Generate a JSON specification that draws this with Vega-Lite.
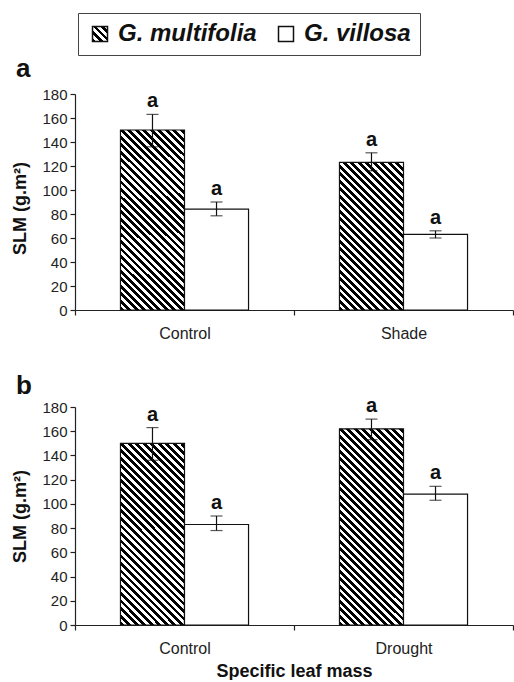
{
  "$schema": "https://vega.github.io/schema/vega-lite/v6.json",
  "padding": {"left": 11, "top": 12, "right": 0, "bottom": 0},
  "params": [
    {"name": "hatch", "value": [
      {"offset":0,"color":"black"},
      {"offset":0.0139,"color":"black"},{"offset":0.0139,"color":"white"},
      {"offset":0.0278,"color":"white"},{"offset":0.0278,"color":"black"},
      {"offset":0.0417,"color":"black"},{"offset":0.0417,"color":"white"},
      {"offset":0.0556,"color":"white"},{"offset":0.0556,"color":"black"},
      {"offset":0.0694,"color":"black"},{"offset":0.0694,"color":"white"},
      {"offset":0.0833,"color":"white"},{"offset":0.0833,"color":"black"},
      {"offset":0.0972,"color":"black"},{"offset":0.0972,"color":"white"},
      {"offset":0.1111,"color":"white"},{"offset":0.1111,"color":"black"},
      {"offset":0.125,"color":"black"},{"offset":0.125,"color":"white"},
      {"offset":0.1389,"color":"white"},{"offset":0.1389,"color":"black"},
      {"offset":0.1528,"color":"black"},{"offset":0.1528,"color":"white"},
      {"offset":0.1667,"color":"white"},{"offset":0.1667,"color":"black"},
      {"offset":0.1806,"color":"black"},{"offset":0.1806,"color":"white"},
      {"offset":0.1944,"color":"white"},{"offset":0.1944,"color":"black"},
      {"offset":0.2083,"color":"black"},{"offset":0.2083,"color":"white"},
      {"offset":0.2222,"color":"white"},{"offset":0.2222,"color":"black"},
      {"offset":0.2361,"color":"black"},{"offset":0.2361,"color":"white"},
      {"offset":0.25,"color":"white"},{"offset":0.25,"color":"black"},
      {"offset":0.2639,"color":"black"},{"offset":0.2639,"color":"white"},
      {"offset":0.2778,"color":"white"},{"offset":0.2778,"color":"black"},
      {"offset":0.2917,"color":"black"},{"offset":0.2917,"color":"white"},
      {"offset":0.3056,"color":"white"},{"offset":0.3056,"color":"black"},
      {"offset":0.3194,"color":"black"},{"offset":0.3194,"color":"white"},
      {"offset":0.3333,"color":"white"},{"offset":0.3333,"color":"black"},
      {"offset":0.3472,"color":"black"},{"offset":0.3472,"color":"white"},
      {"offset":0.3611,"color":"white"},{"offset":0.3611,"color":"black"},
      {"offset":0.375,"color":"black"},{"offset":0.375,"color":"white"},
      {"offset":0.3889,"color":"white"},{"offset":0.3889,"color":"black"},
      {"offset":0.4028,"color":"black"},{"offset":0.4028,"color":"white"},
      {"offset":0.4167,"color":"white"},{"offset":0.4167,"color":"black"},
      {"offset":0.4306,"color":"black"},{"offset":0.4306,"color":"white"},
      {"offset":0.4444,"color":"white"},{"offset":0.4444,"color":"black"},
      {"offset":0.4583,"color":"black"},{"offset":0.4583,"color":"white"},
      {"offset":0.4722,"color":"white"},{"offset":0.4722,"color":"black"},
      {"offset":0.4861,"color":"black"},{"offset":0.4861,"color":"white"},
      {"offset":0.5,"color":"white"},{"offset":0.5,"color":"black"},
      {"offset":0.5139,"color":"black"},{"offset":0.5139,"color":"white"},
      {"offset":0.5278,"color":"white"},{"offset":0.5278,"color":"black"},
      {"offset":0.5417,"color":"black"},{"offset":0.5417,"color":"white"},
      {"offset":0.5556,"color":"white"},{"offset":0.5556,"color":"black"},
      {"offset":0.5694,"color":"black"},{"offset":0.5694,"color":"white"},
      {"offset":0.5833,"color":"white"},{"offset":0.5833,"color":"black"},
      {"offset":0.5972,"color":"black"},{"offset":0.5972,"color":"white"},
      {"offset":0.6111,"color":"white"},{"offset":0.6111,"color":"black"},
      {"offset":0.625,"color":"black"},{"offset":0.625,"color":"white"},
      {"offset":0.6389,"color":"white"},{"offset":0.6389,"color":"black"},
      {"offset":0.6528,"color":"black"},{"offset":0.6528,"color":"white"},
      {"offset":0.6667,"color":"white"},{"offset":0.6667,"color":"black"},
      {"offset":0.6806,"color":"black"},{"offset":0.6806,"color":"white"},
      {"offset":0.6944,"color":"white"},{"offset":0.6944,"color":"black"},
      {"offset":0.7083,"color":"black"},{"offset":0.7083,"color":"white"},
      {"offset":0.7222,"color":"white"},{"offset":0.7222,"color":"black"},
      {"offset":0.7361,"color":"black"},{"offset":0.7361,"color":"white"},
      {"offset":0.75,"color":"white"},{"offset":0.75,"color":"black"},
      {"offset":0.7639,"color":"black"},{"offset":0.7639,"color":"white"},
      {"offset":0.7778,"color":"white"},{"offset":0.7778,"color":"black"},
      {"offset":0.7917,"color":"black"},{"offset":0.7917,"color":"white"},
      {"offset":0.8056,"color":"white"},{"offset":0.8056,"color":"black"},
      {"offset":0.8194,"color":"black"},{"offset":0.8194,"color":"white"},
      {"offset":0.8333,"color":"white"},{"offset":0.8333,"color":"black"},
      {"offset":0.8472,"color":"black"},{"offset":0.8472,"color":"white"},
      {"offset":0.8611,"color":"white"},{"offset":0.8611,"color":"black"},
      {"offset":0.875,"color":"black"},{"offset":0.875,"color":"white"},
      {"offset":0.8889,"color":"white"},{"offset":0.8889,"color":"black"},
      {"offset":0.9028,"color":"black"},{"offset":0.9028,"color":"white"},
      {"offset":0.9167,"color":"white"},{"offset":0.9167,"color":"black"},
      {"offset":0.9306,"color":"black"},{"offset":0.9306,"color":"white"},
      {"offset":0.9444,"color":"white"},{"offset":0.9444,"color":"black"},
      {"offset":0.9583,"color":"black"},{"offset":0.9583,"color":"white"},
      {"offset":0.9722,"color":"white"},{"offset":0.9722,"color":"black"},
      {"offset":0.9861,"color":"black"},{"offset":0.9861,"color":"white"},
      {"offset":1,"color":"white"}
    ]}
  ],
  "data": {"values": [
    {"panel": "a", "treatment": "Control", "species": "G. multifolia", "mean": 150, "lo": 136, "hi": 163, "sig": "a"},
    {"panel": "a", "treatment": "Control", "species": "G. villosa", "mean": 84, "lo": 78.5, "hi": 90, "sig": "a"},
    {"panel": "a", "treatment": "Shade", "species": "G. multifolia", "mean": 123, "lo": 116, "hi": 131, "sig": "a"},
    {"panel": "a", "treatment": "Shade", "species": "G. villosa", "mean": 63, "lo": 60, "hi": 66, "sig": "a"},
    {"panel": "b", "treatment": "Control", "species": "G. multifolia", "mean": 150, "lo": 136, "hi": 163, "sig": "a"},
    {"panel": "b", "treatment": "Control", "species": "G. villosa", "mean": 83, "lo": 78, "hi": 90, "sig": "a"},
    {"panel": "b", "treatment": "Drought", "species": "G. multifolia", "mean": 162, "lo": 153, "hi": 170, "sig": "a"},
    {"panel": "b", "treatment": "Drought", "species": "G. villosa", "mean": 108, "lo": 103, "hi": 114.5, "sig": "a"}
  ]},
  "config": {
    "view": {"stroke": null},
    "font": "Liberation Sans",
    "axis": {"grid": false, "domainColor": "#222", "tickColor": "#222", "labelColor": "#222", "titleColor": "#111", "labelFont": "Liberation Sans", "titleFont": "Liberation Sans", "tickSize": 5, "domainWidth": 1.2, "tickWidth": 1.2, "labelOverlap": false},
    "title": {"font": "Liberation Sans", "color": "#111"}
  },
  "spacing": 32,
  "resolve": {"scale": {"x": "independent", "fill": "shared"}, "legend": {"fill": "shared"}},
  "vconcat": [
    {
      "title": {"text": "a", "anchor": "start", "frame": "bounds", "fontSize": 26, "fontWeight": "bold", "baseline": "alphabetic", "offset": -16, "dx": 4},
      "width": 438,
      "height": 216,
      "transform": [{"filter": "datum.panel === 'a'"}],
      "encoding": {
        "x": {"field": "treatment", "type": "nominal", "sort": null, "scale": {"paddingInner": 0, "paddingOuter": 0},
              "axis": {"title": null, "labelAngle": 0, "labelFontSize": 16, "labelPadding": 10, "tickBand": "extent"}},
        "xOffset": {"field": "species", "type": "nominal", "sort": null, "scale": {"paddingInner": 0, "paddingOuter": 0.71}}
      },
      "layer": [
        {
          "mark": {"type": "bar", "stroke": "#111", "strokeWidth": 1.2},
          "encoding": {
            "y": {"field": "mean", "type": "quantitative", "scale": {"domain": [0, 180]},
                  "axis": {"title": "SLM (g.m²)", "values": [0,20,40,60,80,100,120,140,160,180], "labelOverlap": false, "labelFontSize": 15, "labelPadding": 3, "titleFontSize": 18, "titleFontWeight": "bold", "titlePadding": 12, "titleY": 114}},
            "fill": {
              "field": "species", "type": "nominal", "sort": null,
              "scale": {"domain": ["G. multifolia", "G. villosa"], "range": [{"expr": "{gradient: 'linear', x1: 0, y1: 1, x2: 9, y2: -8, stops: hatch}"}, "#ffffff"]},
              "condition": [
                {"test": "datum.species === 'G. multifolia' && datum.treatment === 'Shade'", "value": {"expr": "{gradient: 'linear', x1: 0, y1: 1, x2: 0.667, y2: -0.539, stops: hatch}"}},
                {"test": "datum.species === 'G. multifolia' && datum.treatment === 'Drought'", "value": {"expr": "{gradient: 'linear', x1: 0, y1: 1, x2: 0.405, y2: -0.243, stops: hatch}"}},
                {"test": "datum.species === 'G. multifolia'", "value": {"expr": "{gradient: 'linear', x1: 0, y1: 1, x2: 0.468, y2: -0.325, stops: hatch}"}}
              ],
              "legend": {
                "title": null, "orient": "none", "legendX": 3, "legendY": -81, "direction": "horizontal",
                "strokeColor": "#444", "padding": 9, "symbolType": "square", "symbolSize": 225,
                "symbolStrokeColor": "#111", "symbolStrokeWidth": 1.5, "symbolOffset": 1,
                "labelFontSize": 24, "labelFontStyle": "italic", "labelFontWeight": "bold", "labelColor": "#111", "labelFont": "Liberation Sans",
                "labelOffset": 6, "columnPadding": 16
              }
            }
          }
        },
        {
          "mark": {"type": "rule", "stroke": "#111", "strokeWidth": 1.2},
          "encoding": {"y": {"field": "lo", "type": "quantitative", "axis": {"title": "SLM (g.m²)", "values": [0,20,40,60,80,100,120,140,160,180], "labelOverlap": false, "labelFontSize": 15, "labelPadding": 3, "titleFontSize": 18, "titleFontWeight": "bold", "titlePadding": 12, "titleY": 114}}, "y2": {"field": "hi"}}
        },
        {
          "mark": {"type": "tick", "orient": "horizontal", "size": 12, "thickness": 1.2, "color": "#111"},
          "encoding": {"y": {"field": "hi", "type": "quantitative", "axis": {"title": "SLM (g.m²)", "values": [0,20,40,60,80,100,120,140,160,180], "labelOverlap": false, "labelFontSize": 15, "labelPadding": 3, "titleFontSize": 18, "titleFontWeight": "bold", "titlePadding": 12, "titleY": 114}}}
        },
        {
          "mark": {"type": "tick", "orient": "horizontal", "size": 12, "thickness": 1.2, "color": "#111"},
          "encoding": {"y": {"field": "lo", "type": "quantitative", "axis": {"title": "SLM (g.m²)", "values": [0,20,40,60,80,100,120,140,160,180], "labelOverlap": false, "labelFontSize": 15, "labelPadding": 3, "titleFontSize": 18, "titleFontWeight": "bold", "titlePadding": 12, "titleY": 114}}}
        },
        {
          "mark": {"type": "text", "baseline": "alphabetic", "dy": -7, "fontSize": 20, "fontWeight": "bold", "color": "#111"},
          "encoding": {"y": {"field": "hi", "type": "quantitative", "axis": {"title": "SLM (g.m²)", "values": [0,20,40,60,80,100,120,140,160,180], "labelOverlap": false, "labelFontSize": 15, "labelPadding": 3, "titleFontSize": 18, "titleFontWeight": "bold", "titlePadding": 12, "titleY": 114}}, "text": {"field": "sig"}}
        }
      ]
    },
    {
      "title": {"text": "b", "anchor": "start", "frame": "bounds", "fontSize": 26, "fontWeight": "bold", "baseline": "alphabetic", "offset": -24, "dx": 4},
      "width": 438,
      "height": 218,
      "transform": [{"filter": "datum.panel === 'b'"}],
      "encoding": {
        "x": {"field": "treatment", "type": "nominal", "sort": null, "scale": {"paddingInner": 0, "paddingOuter": 0},
              "axis": {"title": "Specific leaf mass", "labelAngle": 0, "labelFontSize": 16, "labelPadding": 10, "tickBand": "extent", "titleFontSize": 18, "titleFontWeight": "bold", "titlePadding": 6}},
        "xOffset": {"field": "species", "type": "nominal", "sort": null, "scale": {"paddingInner": 0, "paddingOuter": 0.71}}
      },
      "layer": [
        {
          "mark": {"type": "bar", "stroke": "#111", "strokeWidth": 1.2},
          "encoding": {
            "y": {"field": "mean", "type": "quantitative", "scale": {"domain": [0, 180]},
                  "axis": {"title": "SLM (g.m²)", "values": [0,20,40,60,80,100,120,140,160,180], "labelOverlap": false, "labelFontSize": 15, "labelPadding": 3, "titleFontSize": 18, "titleFontWeight": "bold", "titlePadding": 12}},
            "fill": {
              "field": "species", "type": "nominal", "sort": null,
              "scale": {"domain": ["G. multifolia", "G. villosa"], "range": [{"expr": "{gradient: 'linear', x1: 0, y1: 1, x2: 9, y2: -8, stops: hatch}"}, "#ffffff"]},
              "condition": [
                {"test": "datum.species === 'G. multifolia' && datum.treatment === 'Shade'", "value": {"expr": "{gradient: 'linear', x1: 0, y1: 1, x2: 0.667, y2: -0.539, stops: hatch}"}},
                {"test": "datum.species === 'G. multifolia' && datum.treatment === 'Drought'", "value": {"expr": "{gradient: 'linear', x1: 0, y1: 1, x2: 0.405, y2: -0.243, stops: hatch}"}},
                {"test": "datum.species === 'G. multifolia'", "value": {"expr": "{gradient: 'linear', x1: 0, y1: 1, x2: 0.468, y2: -0.325, stops: hatch}"}}
              ],
              "legend": {
                "title": null, "orient": "none", "legendX": 3, "legendY": -81, "direction": "horizontal",
                "strokeColor": "#444", "padding": 9, "symbolType": "square", "symbolSize": 225,
                "symbolStrokeColor": "#111", "symbolStrokeWidth": 1.5, "symbolOffset": 1,
                "labelFontSize": 24, "labelFontStyle": "italic", "labelFontWeight": "bold", "labelColor": "#111", "labelFont": "Liberation Sans",
                "labelOffset": 6, "columnPadding": 16
              }
            }
          }
        },
        {
          "mark": {"type": "rule", "stroke": "#111", "strokeWidth": 1.2},
          "encoding": {"y": {"field": "lo", "type": "quantitative", "axis": {"title": "SLM (g.m²)", "values": [0,20,40,60,80,100,120,140,160,180], "labelOverlap": false, "labelFontSize": 15, "labelPadding": 3, "titleFontSize": 18, "titleFontWeight": "bold", "titlePadding": 12}}, "y2": {"field": "hi"}}
        },
        {
          "mark": {"type": "tick", "orient": "horizontal", "size": 12, "thickness": 1.2, "color": "#111"},
          "encoding": {"y": {"field": "hi", "type": "quantitative", "axis": {"title": "SLM (g.m²)", "values": [0,20,40,60,80,100,120,140,160,180], "labelOverlap": false, "labelFontSize": 15, "labelPadding": 3, "titleFontSize": 18, "titleFontWeight": "bold", "titlePadding": 12}}}
        },
        {
          "mark": {"type": "tick", "orient": "horizontal", "size": 12, "thickness": 1.2, "color": "#111"},
          "encoding": {"y": {"field": "lo", "type": "quantitative", "axis": {"title": "SLM (g.m²)", "values": [0,20,40,60,80,100,120,140,160,180], "labelOverlap": false, "labelFontSize": 15, "labelPadding": 3, "titleFontSize": 18, "titleFontWeight": "bold", "titlePadding": 12}}}
        },
        {
          "mark": {"type": "text", "baseline": "alphabetic", "dy": -7, "fontSize": 20, "fontWeight": "bold", "color": "#111"},
          "encoding": {"y": {"field": "hi", "type": "quantitative", "axis": {"title": "SLM (g.m²)", "values": [0,20,40,60,80,100,120,140,160,180], "labelOverlap": false, "labelFontSize": 15, "labelPadding": 3, "titleFontSize": 18, "titleFontWeight": "bold", "titlePadding": 12}}, "text": {"field": "sig"}}
        }
      ]
    }
  ]
}
